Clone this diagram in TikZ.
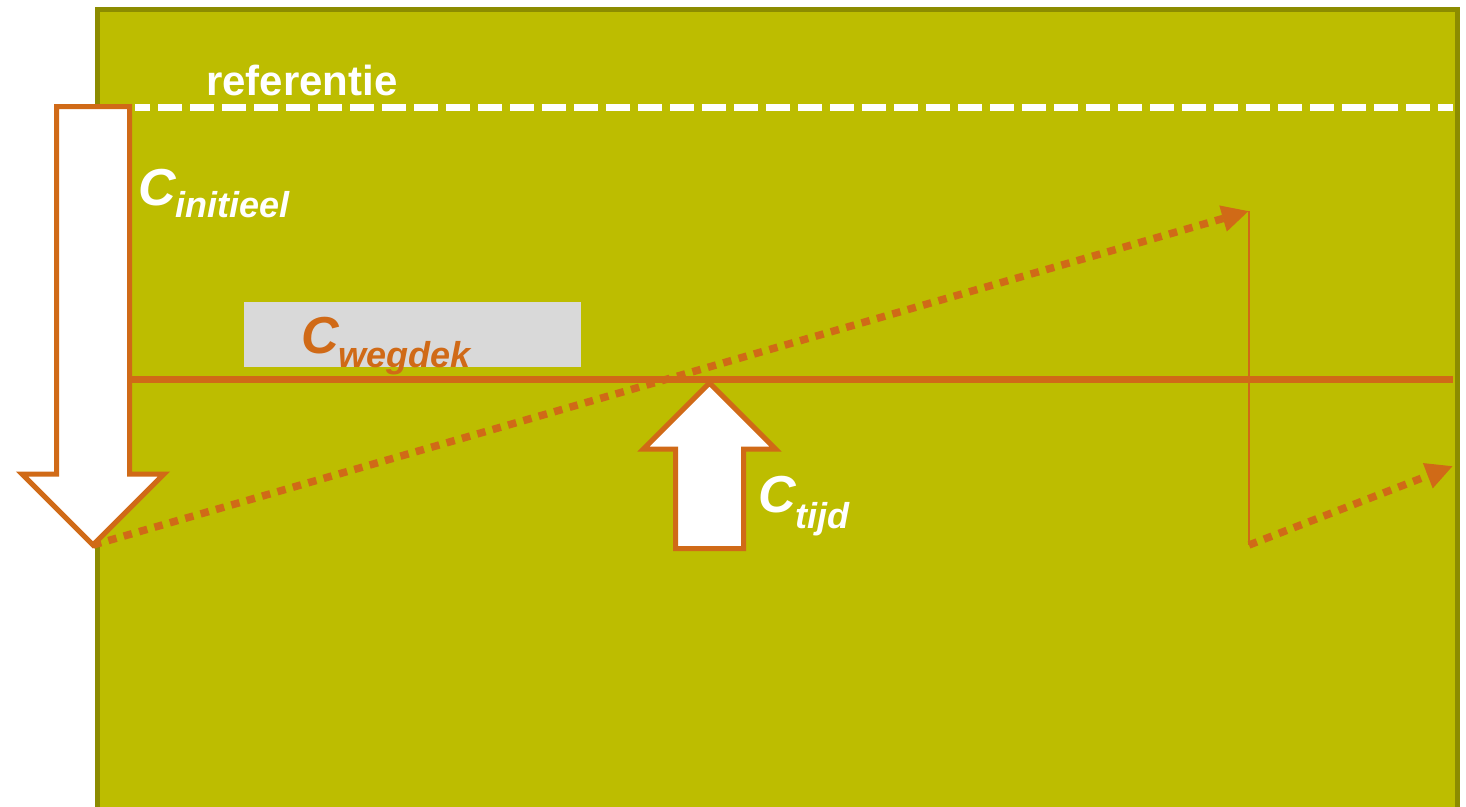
\documentclass[tikz,border=0pt]{standalone}
\usepackage{fontspec}
\setmainfont{Liberation Sans}
\usetikzlibrary{arrows.meta}
\definecolor{bggreen}{HTML}{BDBD00}
\definecolor{bgborder}{HTML}{8C8C00}
\definecolor{orng}{HTML}{D06A17}
\definecolor{lgray}{HTML}{D9D9D9}
\begin{document}
\begin{tikzpicture}[x=1pt,y=-1pt,
  arrowbox/.style={draw=orng,fill=white,line width=5pt,line join=miter},
  dotline/.style={draw=orng,line width=7.5pt,dash pattern=on 8.5pt off 7.5pt,-{Triangle[length=27pt,width=25pt]}},
  lbl/.style={inner sep=0pt,anchor=base west,font=\bfseries\itshape}]
\useasboundingbox (0,0) rectangle (1466,806);
\begin{scope}
  \clip (0,0) rectangle (1466,806);
  \draw[draw=bgborder,fill=bggreen,line width=5pt] (97.5,9) rectangle (1457.5,830);
\end{scope}
% reference line
\coordinate (refL) at (135,107);
\coordinate (refR) at (1453,107);
\draw[white,line width=7pt,dash pattern=on 24pt off 8pt,dash phase=9pt] (refL) -- (refR);
\node[inner sep=0pt,anchor=base west,text=white,font=\bfseries\fontsize{42}{42}\selectfont] (ref) at (206,95) {referentie};
% road surface box
\node[fill=lgray,minimum width=337pt,minimum height=65pt,anchor=north west,inner sep=0pt] (wegbox) at (244,302) {};
\node[lbl,text=orng] (cweg) at (301,353) {\fontsize{52}{52}\selectfont C\raisebox{-14pt}{\fontsize{36}{36}\selectfont wegdek}};
% horizontal line
\coordinate (hl) at (130,379);
\coordinate (hr) at (1453,379);
\draw[orng,line width=7pt] (hl) -- (hr);
% left big arrow (initial)
\coordinate (tipA) at (93,545);
\draw[arrowbox] (56.5,106.5) -- (129.5,106.5) -- (129.5,474) -- (164,474) -- (tipA) -- (22,474) -- (56.5,474) -- cycle;
\node[lbl,text=white] (cini) at (138,205) {\fontsize{52}{52}\selectfont C\raisebox{-12pt}{\fontsize{36}{36}\selectfont initieel}};
% middle up arrow (time)
\coordinate (tipM) at (709.5,383);
\draw[arrowbox] (675.5,548.5) -- (743.5,548.5) -- (743.5,449) -- (775.5,449) -- (tipM) -- (643.5,449) -- (675.5,449) -- cycle;
\node[lbl,text=white] (ctijd) at (758,512) {\fontsize{52}{52}\selectfont C\raisebox{-16pt}{\fontsize{36}{36}\selectfont tijd}};
% dotted arrows
\coordinate (tipB) at (1249,211);
\coordinate (tipC) at (1249,545);
\coordinate (tipD) at (1453,466);
\draw[orng,line width=2pt] (tipB) -- (tipC);
\draw[dotline] (tipA) -- (tipB);
\draw[dotline] (tipC) -- (tipD);
\end{tikzpicture}
\end{document}
